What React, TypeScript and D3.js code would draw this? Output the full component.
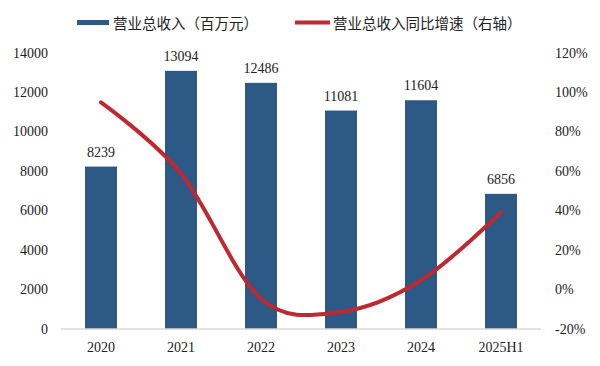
import React from "react";
import * as d3 from "d3";

const categories = ["2020", "2021", "2022", "2023", "2024", "2025H1"];
const revenue = [8239, 13094, 12486, 11081, 11604, 6856];
const growth = [95, 58.9, -4.6, -11.3, 4.7, 39.2];
const leftTicks = [0, 2000, 4000, 6000, 8000, 10000, 12000, 14000];
const rightTicks = [-20, 0, 20, 40, 60, 80, 100, 120];
const legendBar = "营业总收入（百万元）";
const legendLine = "营业总收入同比增速（右轴）";

const W = 600;
const H = 366;
const BAR = "#2D5986";
const RED = "#BE2830";
const NUM_FONT = "'Liberation Serif', 'Times New Roman', serif";
const CJK_FONT = "'Noto Sans CJK SC', sans-serif";

export default function App() {
  const x = d3.scaleBand<string>().domain(categories).range([61, 541]).paddingInner(0.6).paddingOuter(0.3);
  const yL = d3.scaleLinear().domain([0, 14000]).range([329, 53]);
  const yR = d3.scaleLinear().domain([-20, 120]).range([329, 53]);
  const cx = (c: string) => (x(c) ?? 0) + x.bandwidth() / 2;

  const line = d3
    .line<number>()
    .x((_, i) => cx(categories[i]))
    .y((d) => yR(d))
    .curve(d3.curveCatmullRom.alpha(0));

  return (
    <svg width={W} height={H} style={{ position: "absolute", left: 0, top: 0, background: "#fff" }}>
      {/* legend */}
      <rect x={77} y={20} width={32} height={5} fill={BAR} />
      <text x={113} y={22.5} dominantBaseline="central" fontFamily={CJK_FONT} fontSize={14.5} fill="#222">
        {legendBar}
      </text>
      <line x1={295} x2={330} y1={22.5} y2={22.5} stroke={RED} strokeWidth={4} />
      <text x={333} y={22.5} dominantBaseline="central" fontFamily={CJK_FONT} fontSize={14.5} fill="#222">
        {legendLine}
      </text>

      {/* left axis labels */}
      {leftTicks.map((t) => (
        <text key={"l" + t} x={48} y={yL(t)} textAnchor="end" dominantBaseline="central" fontFamily={NUM_FONT} fontSize={14} fill="#222">
          {t}
        </text>
      ))}
      {/* right axis labels */}
      {rightTicks.map((t) => (
        <text key={"r" + t} x={555} y={yR(t)} textAnchor="start" dominantBaseline="central" fontFamily={NUM_FONT} fontSize={14} fill="#222">
          {t + "%"}
        </text>
      ))}

      {/* bars */}
      {categories.map((c, i) => (
        <rect key={c} x={x(c)} y={yL(revenue[i])} width={x.bandwidth()} height={yL(0) - yL(revenue[i])} fill={BAR} />
      ))}
      {/* bar labels */}
      {categories.map((c, i) => (
        <text key={"v" + c} x={cx(c)} y={yL(revenue[i]) - 10} textAnchor="middle" fontFamily={NUM_FONT} fontSize={14} fill="#222">
          {revenue[i]}
        </text>
      ))}

      {/* axis line */}
      <line x1={61} x2={541} y1={329} y2={329} stroke="#D9D9D9" strokeWidth={1.5} />

      {/* category labels */}
      {categories.map((c) => (
        <text key={"c" + c} x={cx(c)} y={352} textAnchor="middle" fontFamily={NUM_FONT} fontSize={14} fill="#222">
          {c}
        </text>
      ))}

      {/* growth line */}
      <path d={line(growth) ?? ""} fill="none" stroke={RED} strokeWidth={4} strokeLinecap="round" />
    </svg>
  );
}
